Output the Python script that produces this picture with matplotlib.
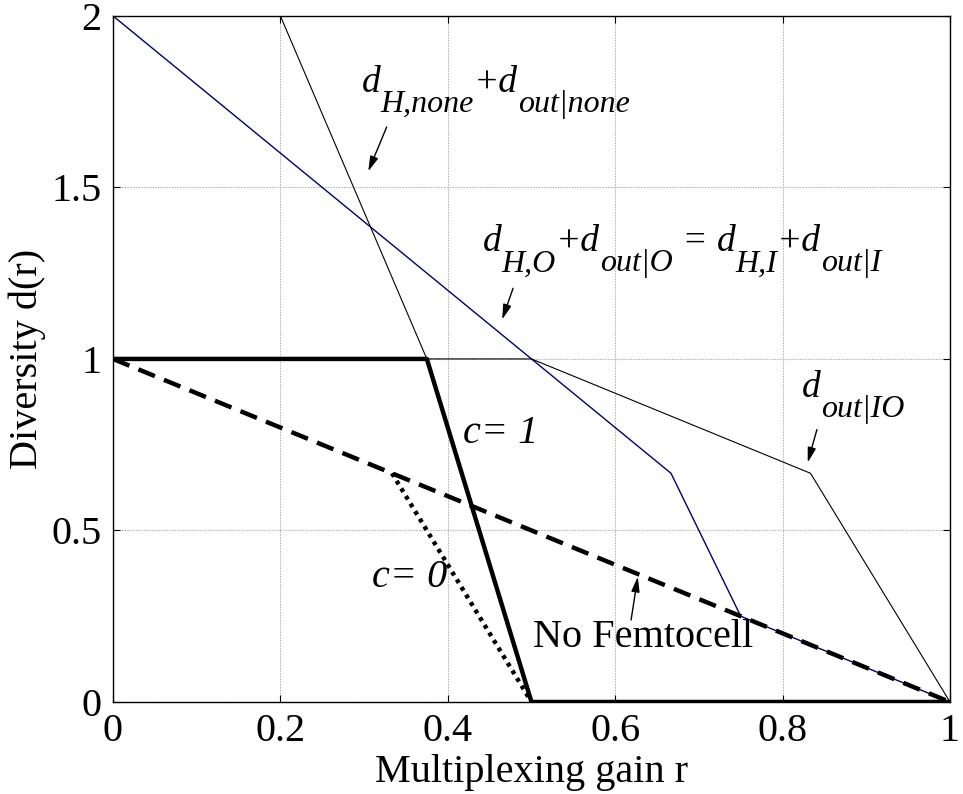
import numpy as np
import matplotlib
matplotlib.use('Agg')
from matplotlib import pyplot as plt

plt.rcParams['font.family'] = ['Liberation Serif', 'DejaVu Serif']

# curves (multiplexing gain r, diversity d)
r_navy = [0, 0.5, 2/3, 0.75, 1]
d_navy = [2, 1, 2/3, 0.25, 0]
r_thin = [0.2, 0.375, 0.5, 5/6, 1]
d_thin = [2, 1, 1, 2/3, 0]
r_c1 = [0, 0.375, 0.5, 1]
d_c1 = [1, 1, 0, 0]
r_nofemto = [0, 1]
d_nofemto = [1, 0]
r_c0 = [1/3, 0.5]
d_c0 = [2/3, 0]

xticks = [0, 0.2, 0.4, 0.6, 0.8, 1]
xticklabels = ['0', '0.2', '0.4', '0.6', '0.8', '1']
yticks = [0, 0.5, 1, 1.5, 2]
yticklabels = ['0', '0.5', '1', '1.5', '2']

fig = plt.figure(figsize=(9.63, 7.94), dpi=100)
ax = fig.add_axes([0.1173, 0.1159, 0.8692, 0.8641])

ax.plot(r_navy, d_navy, color='#000070', lw=1.0)
ax.plot(r_thin, d_thin, color='black', lw=0.8)
ax.plot(r_nofemto, d_nofemto, color='black', lw=3.2, dashes=(4, 2.2))
ax.plot(r_c0, d_c0, color='black', lw=3.2, dashes=(0.9, 1.1))
ax.plot(r_c1, d_c1, color='black', lw=3.2)

ax.set_xlim(0, 1)
ax.set_ylim(0, 2)
ax.set_xticks(xticks)
ax.set_xticklabels(xticklabels)
ax.set_yticks(yticks)
ax.set_yticklabels(yticklabels)
ax.tick_params(direction='in', length=5, top=True, right=True, labelsize=29, pad=8)
ax.grid(True, color='#b8b8b8', lw=0.8, linestyle=(0, (1.5, 1)))
ax.set_axisbelow(True)
for s in ax.spines.values():
    s.set_linewidth(1.0)

ax.set_xlabel('Multiplexing gain r', fontsize=29, labelpad=3)
ax.set_ylabel('Diversity d(r)', fontsize=29, labelpad=4)

renderer = fig.canvas.get_renderer()
M, S, DROP = 27, 23, -14.5

def rich(x, y, parts):
    # place italic pieces one after another, subscripts lowered
    off = 0.0
    for s, sub in parts:
        t = ax.annotate(s, xy=(x, y), xycoords='data', xytext=(off, DROP if sub else 0),
                        textcoords='offset points', fontsize=S if sub else M,
                        style='italic', ha='left', va='baseline')
        off += t.get_window_extent(renderer).width * 72 / fig.dpi

arr = dict(arrowstyle='-|>,head_length=0.9,head_width=0.25', color='black', lw=1.0, shrinkA=0, shrinkB=0)

rich(0.2975, 1.778, [('d', 0), ('H,none', 1), ('+d', 0), ('out|none', 1)])
ax.annotate('', xy=(0.305, 1.547), xytext=(0.327, 1.676), arrowprops=arr)

rich(0.442, 1.314, [('d', 0), ('H,O', 1), ('+d', 0), ('out|O', 1), (' = d', 0), ('H,I', 1), ('+d', 0), ('out|I', 1)])
ax.annotate('', xy=(0.465, 1.115), xytext=(0.478, 1.206), arrowprops=arr)

rich(0.823, 0.888, [('d', 0), ('out|IO', 1)])
ax.annotate('', xy=(0.830, 0.698), xytext=(0.841, 0.794), arrowprops=arr)

ax.text(0.502, 0.16, 'No Femtocell', fontsize=29)
ax.annotate('', xy=(0.627, 0.365), xytext=(0.619, 0.239), arrowprops=arr)

ax.text(0.418, 0.756, 'c= 1', fontsize=29, style='italic')
ax.text(0.309, 0.336, 'c= 0', fontsize=29, style='italic')

fig.savefig('out.png', dpi=100)
